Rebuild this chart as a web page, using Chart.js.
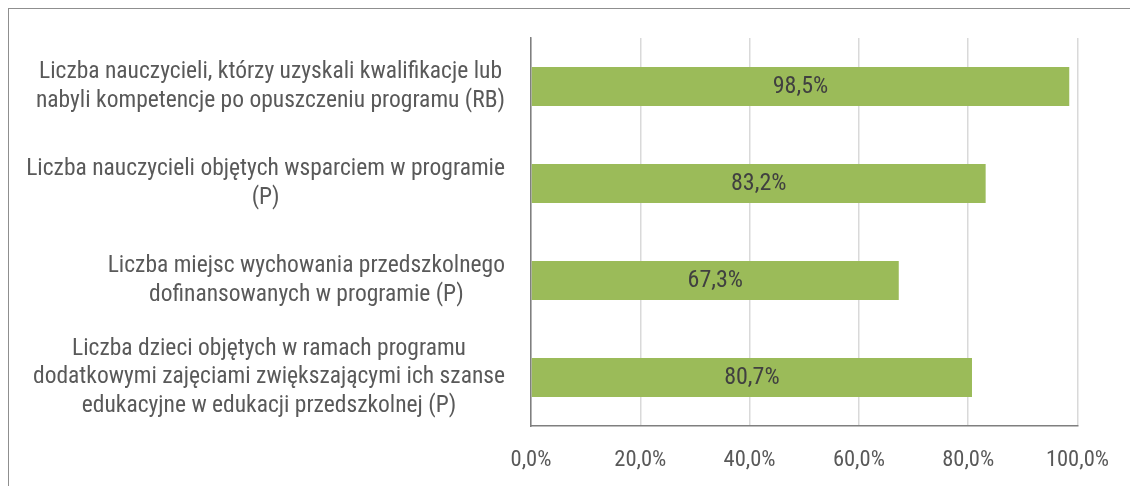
<!DOCTYPE html>
<html>
<head>
<meta charset="utf-8">
<script src="https://cdn.jsdelivr.net/npm/chart.js@4"></script>
<style>
  html, body { margin: 0; padding: 0; background: #fff; overflow: hidden; }
  #wrap { position: relative; width: 1130px; height: 486px; }
  #frame { position: absolute; left: 8px; top: 8px; width: 2000px; height: 2000px; border: 1px solid #8f8f8f; box-sizing: border-box; }
  canvas { position: absolute; left: 0; top: 0; }
</style>
</head>
<body>
<div id="wrap">
  <div id="frame"></div>
  <canvas id="c" width="1130" height="486"></canvas>
</div>
<script>
const categories = [
  ["Liczba nauczycieli, którzy uzyskali kwalifikacje lub", "nabyli kompetencje po opuszczeniu programu (RB)"],
  ["Liczba nauczycieli objętych wsparciem w programie", "(P)"],
  ["Liczba miejsc wychowania przedszkolnego", "dofinansowanych w programie (P)"],
  ["Liczba dzieci objętych w ramach programu", "dodatkowymi zajęciami zwiększającymi ich szanse", "edukacyjne w edukacji przedszkolnej (P)"]
];
const values = [98.5, 83.2, 67.3, 80.7];
const tickValues = [0, 20, 40, 60, 80, 100];

const FONT = "'Liberation Sans Narrow', 'Roboto Condensed', 'Arial Narrow', Roboto, sans-serif";
const fmt = v => v.toFixed(1).replace('.', ',') + '%';

const labelPlugin = {
  id: 'labels',
  afterDraw(chart) {
    const ctx = chart.ctx;
    const y = chart.scales.y;
    ctx.save();
    ctx.font = '23.5px ' + FONT;
    ctx.fillStyle = '#595959';
    ctx.textAlign = 'center';
    ctx.textBaseline = 'middle';
    const lh = 28.5;
    const right = y.right - 26;
    categories.forEach((lines, i) => {
      const py = y.getPixelForTick(i);
      const maxW = Math.max(...lines.map(l => ctx.measureText(l).width));
      const cx = right - maxW / 2;
      lines.forEach((l, j) => {
        ctx.fillText(l, cx, py + (j - (lines.length - 1) / 2) * lh);
      });
    });
    // data labels
    const meta = chart.getDatasetMeta(0);
    ctx.font = '24px ' + FONT;
    ctx.fillStyle = '#404040';
    meta.data.forEach((el, i) => {
      ctx.fillText(fmt(values[i]), (el.x + el.base) / 2, el.y);
    });
    ctx.restore();
  }
};

new Chart(document.getElementById('c'), {
  type: 'bar',
  data: {
    labels: categories.map(c => c.join(' ')),
    datasets: [{
      data: values,
      backgroundColor: '#9BBB59',
      borderWidth: 0,
      categoryPercentage: 1,
      barPercentage: 0.4
    }]
  },
  options: {
    indexAxis: 'y',
    responsive: false,
    animation: false,
    devicePixelRatio: 1,
    layout: { padding: { top: 38, right: 50, left: 0, bottom: 0 } },
    plugins: { legend: { display: false }, tooltip: { enabled: false } },
    scales: {
      x: {
        min: 0, max: 100,
        afterBuildTicks(axis) { axis.ticks = tickValues.map(v => ({ value: v })); },
        afterFit(axis) { axis.height = 60; },
        grid: { color: '#d9d9d9', lineWidth: 1.5, drawTicks: false },
        border: { display: true, color: '#7f7f7f', width: 1.5 },
        ticks: {
          padding: 21,
          color: '#595959',
          font: { size: 22.5, family: FONT },
          callback: v => fmt(v)
        }
      },
      y: {
        afterFit(axis) { axis.width = 531; },
        grid: { display: false, drawTicks: false },
        border: { display: true, color: '#7f7f7f', width: 1.5 },
        ticks: { display: false }
      }
    }
  },
  plugins: [labelPlugin]
});
</script>
</body>
</html>
